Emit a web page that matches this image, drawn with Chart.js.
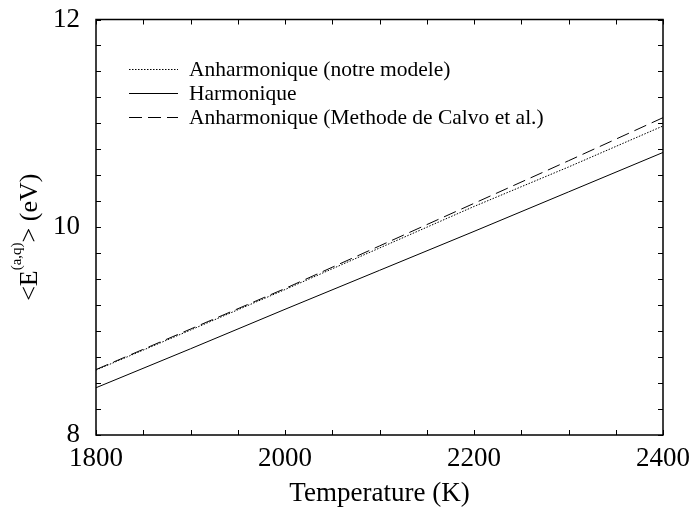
<!DOCTYPE html>
<html>
<head>
<meta charset="utf-8">
<script src="https://cdn.jsdelivr.net/npm/chart.js@4/dist/chart.umd.min.js"></script>
<style>
  html, body { margin: 0; padding: 0; background: #fff; }
  canvas { display: block; }
</style>
</head>
<body>
<canvas id="chart" width="692" height="514"></canvas>
<script>
// Temperature (K)
const temps = [1800, 1900, 2000, 2100, 2200, 2300, 2400]
// <E^(a,q)> (eV)
const anharmNotre = [8.625, 9.01, 9.40, 9.80, 10.20, 10.58, 10.975]
const harmonique  = [8.455, 8.83, 9.21, 9.585, 9.96, 10.34, 10.72]
const anharmCalvo = [8.63, 9.02, 9.41, 9.82, 10.23, 10.64, 11.055]

const xMajor = [1800, 2000, 2200, 2400]
const yMajor = [8, 10, 12]

const labels = ['Anharmonique (notre modele)', 'Harmonique', 'Anharmonique (Methode de Calvo et al.)']

const SERIF = '"Liberation Serif", "Times New Roman", serif'

const toPts = ys => temps.map((t, i) => ({ x: t, y: ys[i] }))

// cadre + graduations vers l'intérieur sur les 4 côtés
const framePlugin = {
  id: 'frame',
  afterDraw(chart) {
    const { ctx, chartArea: a, scales: { x, y } } = chart
    ctx.save()
    ctx.strokeStyle = '#000'
    ctx.lineWidth = 1.5
    ctx.strokeRect(a.left, a.top, a.right - a.left, a.bottom - a.top)
    ctx.lineWidth = 1
    ctx.beginPath()
    const L = 5
    x.ticks.forEach(t => {
      const px = Math.round(x.getPixelForValue(t.value)) + 0.5
      ctx.moveTo(px, a.bottom); ctx.lineTo(px, a.bottom - L)
      ctx.moveTo(px, a.top);    ctx.lineTo(px, a.top + L)
    })
    y.ticks.forEach(t => {
      const py = Math.round(y.getPixelForValue(t.value)) + 0.5
      ctx.moveTo(a.left, py);  ctx.lineTo(a.left + L, py)
      ctx.moveTo(a.right, py); ctx.lineTo(a.right - L, py)
    })
    ctx.stroke()
    ctx.restore()
  }
}

// légende dans le graphique
const legendPlugin = {
  id: 'inLegend',
  afterDraw(chart) {
    const { ctx } = chart
    ctx.save()
    ctx.font = '21.5px ' + SERIF
    ctx.textBaseline = 'middle'
    ctx.fillStyle = '#000'
    chart.data.datasets.forEach((ds, i) => {
      const yy = 69 + i * 24
      ctx.beginPath()
      ctx.strokeStyle = '#000'
      ctx.lineWidth = 1
      ctx.setLineDash(ds.borderDash || [])
      ctx.moveTo(129, yy + 0.5)
      ctx.lineTo(178, yy + 0.5)
      ctx.stroke()
      ctx.setLineDash([])
      ctx.fillText(ds.label, 189, yy + 1)
    })
    ctx.restore()
  }
}

// titre de l'axe y avec exposant
const yTitlePlugin = {
  id: 'yTitle',
  afterDraw(chart) {
    const { ctx, chartArea: a } = chart
    const parts = [
      { t: '<E', size: 26, dy: 0 },
      { t: '(a,q)', size: 15, dy: -16 },
      { t: '> (eV)', size: 26, dy: 0 },
    ]
    ctx.save()
    ctx.translate(37, (a.top + a.bottom) / 2 + 10)
    ctx.rotate(-Math.PI / 2)
    ctx.fillStyle = '#000'
    ctx.textBaseline = 'alphabetic'
    let w = 0
    parts.forEach(p => { ctx.font = p.size + 'px ' + SERIF; p.w = ctx.measureText(p.t).width; w += p.w })
    let cx = -w / 2
    parts.forEach(p => {
      ctx.font = p.size + 'px ' + SERIF
      ctx.fillText(p.t, cx, p.dy)
      cx += p.w
    })
    ctx.restore()
  }
}

new Chart(document.getElementById('chart'), {
  type: 'line',
  data: {
    datasets: [
      { label: labels[0], data: toPts(anharmNotre), borderDash: [1.5, 1.5] },
      { label: labels[1], data: toPts(harmonique),  borderDash: [] },
      { label: labels[2], data: toPts(anharmCalvo), borderDash: [13, 6] },
    ].map(d => ({ ...d, borderColor: '#000', borderWidth: 1, pointRadius: 0, fill: false, tension: 0 })),
  },
  options: {
    responsive: false,
    animation: false,
    layout: { padding: { top: 19.5, right: 29, left: 0, bottom: 0 } },
    plugins: { legend: { display: false }, tooltip: { enabled: false } },
    scales: {
      x: {
        type: 'linear',
        min: 1800, max: 2400,
        afterFit(s) { s.height = 79 },
        grid: { display: false, drawTicks: false },
        border: { display: false },
        ticks: {
          stepSize: 50, autoSkip: false, maxRotation: 0, padding: 0,
          color: '#000', font: { family: SERIF, size: 27, lineHeight: 1.78 },
          callback: v => xMajor.includes(v) ? String(v) : '',
        },
        title: {
          display: true, text: 'Temperature (K)', color: '#000',
          font: { family: SERIF, size: 27 }, padding: { top: 0, bottom: 4 },
        },
      },
      y: {
        min: 8, max: 12,
        afterFit(s) { s.width = 96 },
        grid: { display: false, drawTicks: false },
        border: { display: false },
        ticks: {
          stepSize: 0.25, autoSkip: false, padding: 16,
          color: '#000', font: { family: SERIF, size: 27, lineHeight: 0.2 },
          callback: v => yMajor.includes(v) ? String(v) : '',
        },
      },
    },
  },
  plugins: [framePlugin, legendPlugin, yTitlePlugin],
})
</script>
</body>
</html>
